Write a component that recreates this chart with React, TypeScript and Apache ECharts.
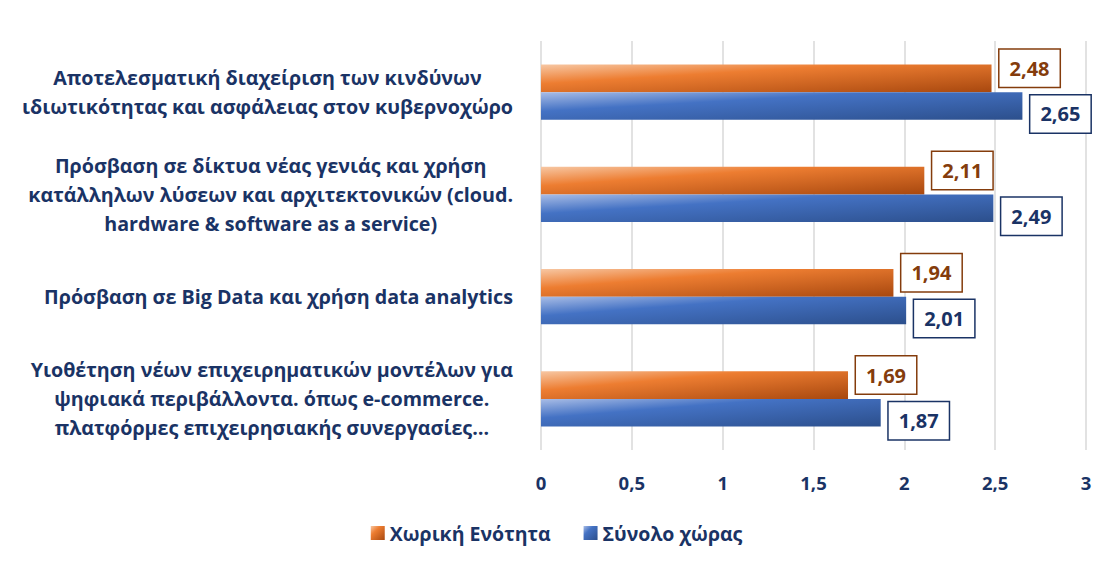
import React, { useEffect, useRef } from "react";
import * as echarts from "echarts";

const categories = [
  "Αποτελεσματική διαχείριση των κινδύνων\nιδιωτικότητας και ασφάλειας στον κυβερνοχώρο",
  "Πρόσβαση σε δίκτυα νέας γενιάς και χρήση\nκατάλληλων λύσεων και αρχιτεκτονικών (cloud.\nhardware & software as a service)",
  "Πρόσβαση σε Big Data και χρήση data analytics",
  "Υιοθέτηση νέων επιχειρηματικών μοντέλων για\nψηφιακά περιβάλλοντα. όπως e-commerce.\nπλατφόρμες επιχειρησιακής συνεργασίες…",
];
const regionValues = [2.48, 2.11, 1.94, 1.69];
const countryValues = [2.65, 2.49, 2.01, 1.87];
const seriesNames = ["Χωρική Ενότητα", "Σύνολο χώρας"];

const NAVY = "#1a3365";
const BROWN = "#843c0c";
const FONT = "'Open Sans', 'Noto Sans', sans-serif";

const fmt = (v: number) => String(v).replace(".", ",");

export default function App() {
  const ref = useRef<HTMLDivElement>(null);
  useEffect(() => {
    if (!ref.current) return;
    const chart = echarts.init(ref.current, undefined, { renderer: "svg" });
    const orange = new echarts.graphic.LinearGradient(0, 0, 1, 1, [
      { offset: 0, color: "#f7c7a3" },
      { offset: 0.35, color: "#ed7d31" },
      { offset: 1, color: "#a8480f" },
    ]);
    const blue = new echarts.graphic.LinearGradient(0, 0, 1, 1, [
      { offset: 0, color: "#a9bde6" },
      { offset: 0.35, color: "#4472c4" },
      { offset: 1, color: "#2c4f8c" },
    ]);
    const labelBox = (color: string, dy: number) => ({
      show: true,
      position: "right",
      distance: 8,
      offset: [0, dy],
      formatter: (p: any) => fmt(p.value),
      color,
      fontFamily: FONT,
      fontWeight: "bold",
      fontSize: 20,
      backgroundColor: "#fff",
      borderColor: color,
      borderWidth: 1.5,
      padding: [9, 10, 8, 10],
    });
    chart.setOption({
      animation: false,
      grid: { left: 541, right: 27, top: 41, bottom: 116, containLabel: false },
      legend: {
        bottom: 18,
        left: "center",
        itemWidth: 14,
        itemHeight: 14,
        itemGap: 33,
        icon: "rect",
        textStyle: { color: NAVY, fontFamily: FONT, fontWeight: "bold", fontSize: 19.5 },
        data: seriesNames,
      },
      xAxis: {
        type: "value",
        min: 0,
        max: 3,
        interval: 0.5,
        axisLine: { show: false },
        axisTick: { show: false },
        splitLine: { lineStyle: { color: "#d9d9d9", width: 1.5 } },
        axisLabel: {
          color: NAVY,
          fontFamily: FONT,
          fontWeight: "bold",
          fontSize: 18.5,
          margin: 23,
          formatter: (v: number) => fmt(v),
        },
      },
      yAxis: {
        type: "category",
        data: categories,
        inverse: true,
        axisLine: { show: false },
        axisTick: { show: false },
        axisLabel: {
          align: "right",
          margin: 28,
          formatter: (v: string) =>
            v
              .split("\n")
              .map((l) => `{c|${l}}`)
              .join("\n"),
          rich: {
            c: {
              align: "center",
              color: NAVY,
              fontFamily: FONT,
              fontWeight: "bold",
              fontSize: 19.7,
              lineHeight: 29,
            },
          },
        },
      },
      series: [
        {
          name: seriesNames[0],
          type: "bar",
          data: regionValues,
          barWidth: "27%",
          barGap: "0%",
          itemStyle: { color: orange },
          label: labelBox(BROWN, -10),
        },
        {
          name: seriesNames[1],
          type: "bar",
          data: countryValues,
          barWidth: "27%",
          barGap: "0%",
          itemStyle: { color: blue },
          label: labelBox(NAVY, 8),
        },
      ],
    });
    return () => chart.dispose();
  }, []);
  return (
    <div
      ref={ref}
      style={{ position: "absolute", left: 0, top: 0, width: 1113, height: 566 }}
    />
  );
}
